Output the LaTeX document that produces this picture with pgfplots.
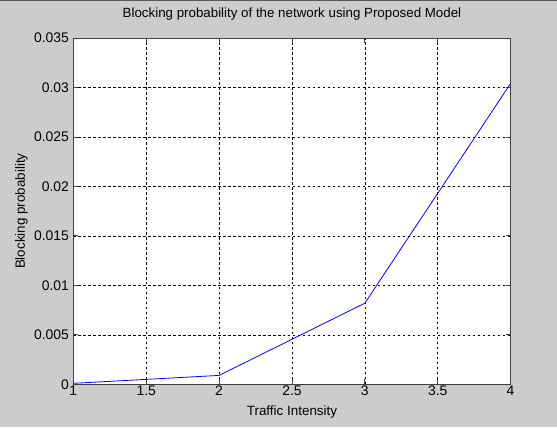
\documentclass[border=0pt]{standalone}
\usepackage{pgfplots}
\pgfplotsset{compat=1.18}
\usepackage{fontspec}
\setmainfont{Liberation Sans}
\definecolor{figgray}{HTML}{CCCCCC}
\definecolor{mblue}{HTML}{0000FF}
\begin{document}
\begin{tikzpicture}[x=1bp,y=1bp]
\fill[figgray] (0,0) rectangle (557,428);
\draw[gray!70!black, line width=1bp] (0,427) -- (557,427);
\begin{axis}[
  at={(73bp,43bp)}, anchor=south west,
  scale only axis, width=438bp, height=347bp,
  xmin=1, xmax=4, ymin=0, ymax=0.035,
  xtick={1,1.5,2,2.5,3,3.5,4},
  xticklabels={1,1.5,2,2.5,3,3.5,4},
  ytick={0,0.005,0.01,0.015,0.02,0.025,0.03,0.035},
  yticklabels={0,0.005,0.01,0.015,0.02,0.025,0.03,0.035},
  scaled y ticks=false,
  tick align=inside, tick pos=both,
  major tick length=5bp,
  grid=major,
  major grid style={black, line width=0.6bp, dash pattern=on 2.5bp off 2.5bp},
  axis line style={black!75, line width=0.8bp},
  every tick/.style={black!75, line width=0.8bp},
  axis background/.style={fill=white},
  tick label style={font=\fontsize{14}{16}\selectfont},
  /pgf/number format/assume math mode=true,
  label style={font=\fontsize{13.5}{15}\selectfont},
  title style={font=\fontsize{13.4}{15}\selectfont, at={(axis description cs:0.5,1.052)}, anchor=center},
  xticklabel style={yshift=2bp},
  yticklabel style={xshift=-1bp},
  title={Blocking probability of the network using Proposed Model},
  xlabel={Traffic Intensity},
  ylabel={Blocking probability},
  xlabel style={at={(axis description cs:0.5,-0.081)}, anchor=center},
  ylabel style={at={(axis description cs:-0.119,0.5)}, anchor=center},
]
\addplot[mblue, line width=0.8bp] coordinates {
  (1,0.0001) (2,0.0009) (3,0.0082) (4,0.0304)
};
\end{axis}
\end{tikzpicture}
\end{document}
